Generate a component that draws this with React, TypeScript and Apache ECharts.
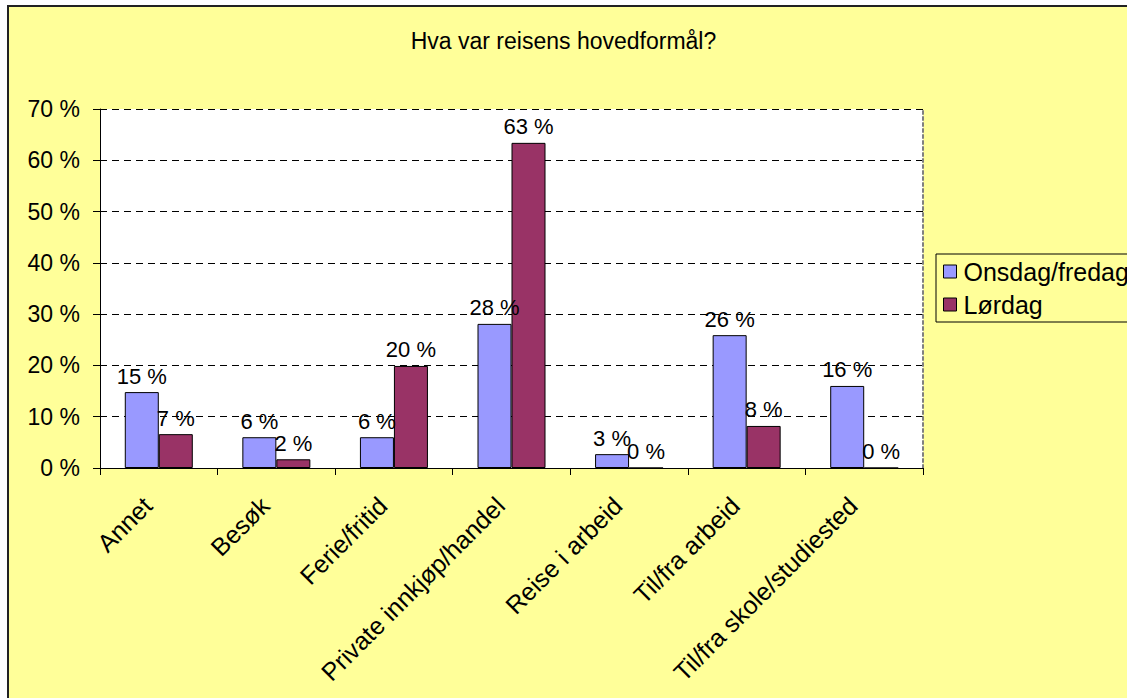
import React, { useEffect, useRef } from "react";
import * as echarts from "echarts";

const title = "Hva var reisens hovedformål?";
const categories = [
  "Annet",
  "Besøk",
  "Ferie/fritid",
  "Private innkjøp/handel",
  "Reise i arbeid",
  "Til/fra arbeid",
  "Til/fra skole/studiested",
];
const seriesNames = ["Onsdag/fredag", "Lørdag"];
const onsdagFredag = [14.8, 6.0, 6.0, 28.1, 2.7, 25.9, 16.0];
const lordag = [6.6, 1.7, 19.9, 63.4, 0, 8.2, 0];
const yTicks = { min: 0, max: 70, interval: 10 };

const FONT = "'Liberation Sans', Arial, sans-serif";

export default function App() {
  const ref = useRef<HTMLDivElement>(null);
  useEffect(() => {
    if (!ref.current) return;
    const chart = echarts.init(ref.current, null, { renderer: "svg" });
    const label = {
      show: true,
      position: "top",
      distance: 5,
      color: "#000",
      fontSize: 22,
      fontFamily: FONT,
      formatter: (p: any) => `${Math.round(p.value)} %`,
    };
    chart.setOption({
      animation: false,
      backgroundColor: "#ffffff",
      textStyle: { fontFamily: FONT },
      graphic: [
        {
          type: "rect",
          z: -10,
          silent: true,
          shape: { x: 8, y: 6, width: 1200, height: 800 },
          style: { fill: "#FFFF99", stroke: "#222", lineWidth: 2 },
        },
      ],
      title: {
        text: title,
        left: "center",
        top: 24,
        textStyle: { fontSize: 23, fontWeight: "normal", color: "#000", fontFamily: FONT },
      },
      legend: {
        orient: "vertical",
        left: 936,
        top: 254,
        padding: [5, 200, 5, 7],
        itemGap: 8,
        itemWidth: 13,
        itemHeight: 13,
        itemStyle: { borderColor: "#000", borderWidth: 1 },
        backgroundColor: "#FFFF99",
        borderColor: "#000",
        borderWidth: 1,
        borderRadius: 0,
        textStyle: { fontSize: 25, color: "#000", fontFamily: FONT, padding: [0, 0, 0, 2] },
        data: seriesNames.map((n) => ({ name: n, icon: "rect" })),
      },
      grid: {
        left: 100,
        top: 109,
        width: 823,
        height: 359,
        show: true,
        backgroundColor: "#ffffff",
        borderWidth: 0,
      },
      xAxis: {
        type: "category",
        data: categories,
        axisLine: { lineStyle: { color: "#000", width: 1 } },
        axisTick: { show: true, interval: 0, length: 7, lineStyle: { color: "#000" } },
        axisLabel: {
          interval: 0,
          rotate: 45,
          margin: 22,
          padding: [0, 16, 0, 0],
          fontSize: 25,
          color: "#000",
          fontFamily: FONT,
        },
      },
      yAxis: [
        {
          type: "value",
          min: yTicks.min,
          max: yTicks.max,
          interval: yTicks.interval,
          axisLine: { show: true, lineStyle: { color: "#000", width: 1 } },
          axisTick: { show: true, length: 7, lineStyle: { color: "#000" } },
          axisLabel: {
            margin: 20,
            fontSize: 23,
            color: "#000",
            fontFamily: FONT,
            formatter: (v: number) => `${v} %`,
          },
          splitLine: {
            show: true,
            lineStyle: { color: "#000", type: [7, 5], width: 1 },
          },
        },
        {
          type: "value",
          position: "right",
          min: yTicks.min,
          max: yTicks.max,
          interval: yTicks.interval,
          axisLine: { show: true, lineStyle: { color: "#808080", type: [3, 3], width: 2 } },
          axisTick: { show: false },
          axisLabel: { show: false },
          splitLine: { show: false },
        },
      ],
      series: [
        {
          name: seriesNames[0],
          type: "bar",
          data: onsdagFredag,
          barWidth: 34,
          barGap: "0%",
          itemStyle: { color: "#9999FF", borderColor: "#000", borderWidth: 1 },
          label,
        },
        {
          name: seriesNames[1],
          type: "bar",
          data: lordag,
          barWidth: 34,
          barGap: "0%",
          itemStyle: { color: "#993366", borderColor: "#000", borderWidth: 1 },
          label,
        },
      ],
    });
    return () => chart.dispose();
  }, []);
  return (
    <div
      ref={ref}
      style={{ position: "fixed", left: 0, top: 0, width: 1127, height: 698 }}
    />
  );
}
